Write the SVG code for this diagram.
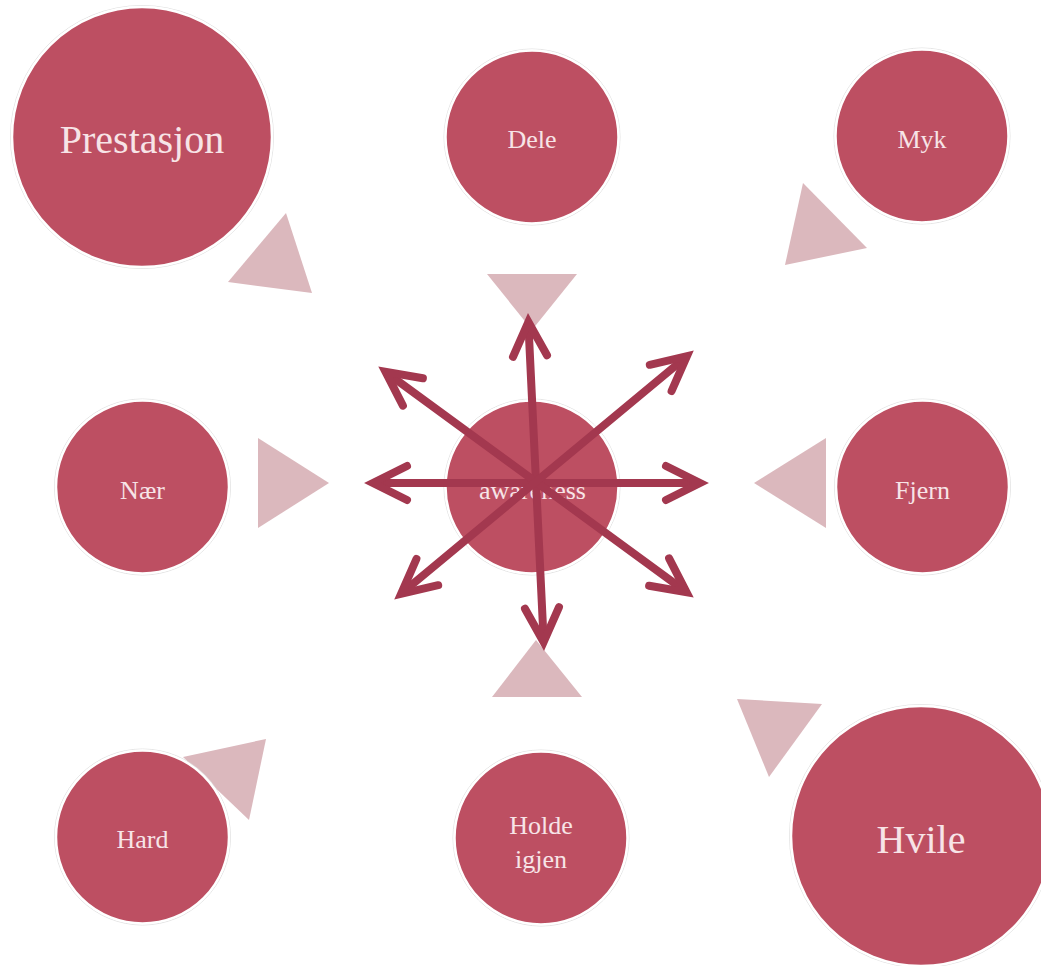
<svg xmlns="http://www.w3.org/2000/svg" width="1041" height="966" viewBox="0 0 1041 966">
<style>
.tri{fill:#dbb8bd}
.c{fill:#bd4f62;stroke:#ffffff;stroke-width:2.5}
.ring{fill:none;stroke:#dcdcdc;stroke-width:0.8}
.t{font-family:"Liberation Serif","Times New Roman",serif;fill:#f7e4e7;text-anchor:middle}
.s{font-size:26px}
.l{font-size:40px}
.ar{fill:none;stroke:#a3384f;stroke-width:8;stroke-linecap:round;stroke-linejoin:miter}
</style>
<rect width="1041" height="966" fill="#ffffff"/>
<g id="triangles">
<polygon class="tri" points="228,282 286,213 312,293"/>
<polygon class="tri" points="487,274 577,274 532,330"/>
<polygon class="tri" points="803,183 867,248 785,265"/>
<polygon class="tri" points="258,438 258,528 329,483"/>
<polygon class="tri" points="826,438 826,528 754,483"/>
<polygon class="tri" points="536,640 582,697 492,697"/>
<polygon class="tri" points="183,757 266,739 249,820"/>
<polygon class="tri" points="737,699 822,704 769,777"/>
</g>
<g id="node-prestasjon">
<circle class="ring" cx="142" cy="137" r="131.5"/>
<circle class="c" cx="142" cy="137" r="130"/>
<text class="t l" x="142" y="153">Prestasjon</text>
</g>
<g id="node-dele">
<circle class="ring" cx="532" cy="137" r="88"/>
<circle class="c" cx="532" cy="137" r="86.5"/>
<text class="t s" x="532" y="148">Dele</text>
</g>
<g id="node-myk">
<circle class="ring" cx="922" cy="136" r="88"/>
<circle class="c" cx="922" cy="136" r="86.5"/>
<text class="t s" x="922" y="148">Myk</text>
</g>
<g id="node-naer">
<circle class="ring" cx="142.5" cy="487" r="88"/>
<circle class="c" cx="142.5" cy="487" r="86.5"/>
<text class="t s" x="142.5" y="499">Nær</text>
</g>
<g id="node-awareness">
<circle class="ring" cx="532" cy="487" r="88"/>
<circle class="c" cx="532" cy="487" r="86.5"/>
<text class="t s" x="532.5" y="499">awareness</text>
</g>
<g id="node-fjern">
<circle class="ring" cx="922.5" cy="487" r="88"/>
<circle class="c" cx="922.5" cy="487" r="86.5"/>
<text class="t s" x="922.5" y="499">Fjern</text>
</g>
<g id="node-hard">
<circle class="ring" cx="142.5" cy="837" r="88"/>
<circle class="c" cx="142.5" cy="837" r="86.5"/>
<text class="t s" x="142.5" y="848">Hard</text>
</g>
<g id="node-holde-igjen">
<circle class="ring" cx="541" cy="838" r="88"/>
<circle class="c" cx="541" cy="838" r="86.5"/>
<text class="t s" x="541" y="834">Holde</text>
<text class="t s" x="541" y="868">igjen</text>
</g>
<g id="node-hvile">
<circle class="ring" cx="921" cy="836" r="131.5"/>
<circle class="c" cx="921" cy="836" r="130"/>
<text class="t l" x="921" y="853">Hvile</text>
</g>
<g id="connectors">
<line class="ar" x1="528.4" y1="324" x2="543.6" y2="640"/>
<polyline class="ar" points="513,356.8 528.4,322 547,355.2"/>
<polyline class="ar" points="525,608.8 543.6,642 559,607.2"/>
<line class="ar" x1="375" y1="483" x2="698" y2="483"/>
<polyline class="ar" points="407,466 373,483 407,500"/>
<polyline class="ar" points="666,466 700,483 666,500"/>
<line class="ar" x1="387" y1="373" x2="685" y2="591"/>
<polyline class="ar" points="402.9,405.6 385.5,371.7 422.9,378.2"/>
<polyline class="ar" points="649.1,585.8 686.5,592.3 669.1,558.4"/>
<line class="ar" x1="685.5" y1="357.5" x2="402.5" y2="592.5"/>
<polyline class="ar" points="671.6,391 686.9,356.1 649.8,364.8"/>
<polyline class="ar" points="438.2,585.2 401.1,593.9 416.4,559"/>
</g>
</svg>
